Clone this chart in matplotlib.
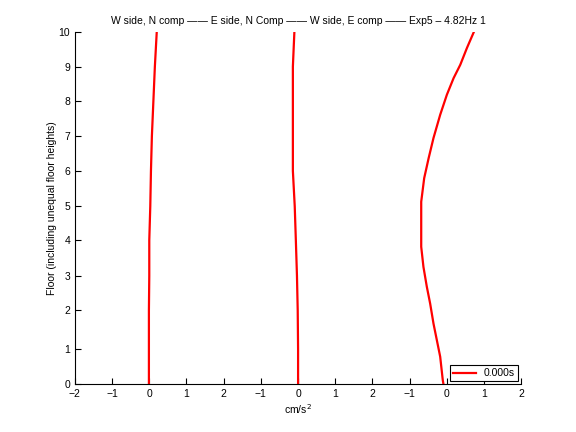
import matplotlib
matplotlib.use("Agg")
import matplotlib.pyplot as plt

# floor positions (unequal floor heights), labelled 0..10
floor_pos = [0, 1.004, 2.105, 3.089, 4.096, 5.063, 6.067, 7.053, 8.038, 9.025, 10]
floor_labels = [str(i) for i in range(11)]

# acceleration profiles (cm/s^2), t = 0.000s
w_side_n = [-0.01, -0.01, -0.01, 0.0, 0.0, 0.027, 0.045, 0.07, 0.11, 0.15, 0.2]
e_side_n = [0.0, 0.0, -0.01, -0.03, -0.06, -0.09, -0.14, -0.14, -0.14, -0.14, -0.1]

# W side, E comp read at more heights (curve is smooth)
w_side_e_h = [0, 0.12, 0.79, 1.26, 1.73, 2.30, 2.78, 3.34, 3.91, 4.5, 5.19, 5.86,
              6.43, 7.0, 7.66, 8.23, 8.70, 9.08, 9.56, 10.0]
w_side_e = [-0.09, -0.11, -0.18, -0.27, -0.36, -0.45, -0.54, -0.63, -0.69, -0.69, -0.69, -0.61,
            -0.49, -0.36, -0.18, 0.0, 0.18, 0.36, 0.54, 0.72]

offsets = [0, 4, 8]
xtick_pos = list(range(-2, 11))
xtick_labels = ["\u22122", "\u22121", "0", "1", "2", "\u22121", "0", "1", "2", "\u22121", "0", "1", "2"]

plt.rcParams['font.family'] = ['Liberation Sans', 'DejaVu Sans']
plt.rcParams['font.size'] = 7.5

fig = plt.figure(figsize=(5.76, 4.32), dpi=100)
ax = fig.add_axes([0.13, 0.11, 0.775, 0.815])

ax.plot([v + offsets[0] for v in w_side_n], floor_pos, color='red', lw=1.6, label='0.000s')
ax.plot([v + offsets[1] for v in e_side_n], floor_pos, color='red', lw=1.6)
ax.plot([v + offsets[2] for v in w_side_e], w_side_e_h, color='red', lw=1.6)

ax.set_xlim(-2, 10)
ax.set_ylim(0, 10)
ax.set_xticks(xtick_pos)
ax.set_xticklabels(xtick_labels)
ax.set_yticks(floor_pos)
ax.set_yticklabels(floor_labels)
ax.tick_params(direction='in', length=4, width=0.8, colors='black')
ax.spines['top'].set_visible(False)
ax.spines['right'].set_visible(False)

ax.set_title("W side, N comp \u2014\u2014 E side, N Comp \u2014\u2014 W side, E comp \u2014\u2014 Exp5 \u2013 4.82Hz 1",
             fontsize=7.5, pad=6)
ax.set_xlabel("cm/s$^2$", labelpad=2)
ax.set_ylabel("Floor (including unequal floor heights)", labelpad=1)

leg = ax.legend(loc='lower right', fancybox=False, framealpha=1, edgecolor='black',
                handlelength=2.2, borderpad=0.3, borderaxespad=0.3)
leg.get_frame().set_linewidth(0.8)

fig.savefig("out.png", dpi=100)
